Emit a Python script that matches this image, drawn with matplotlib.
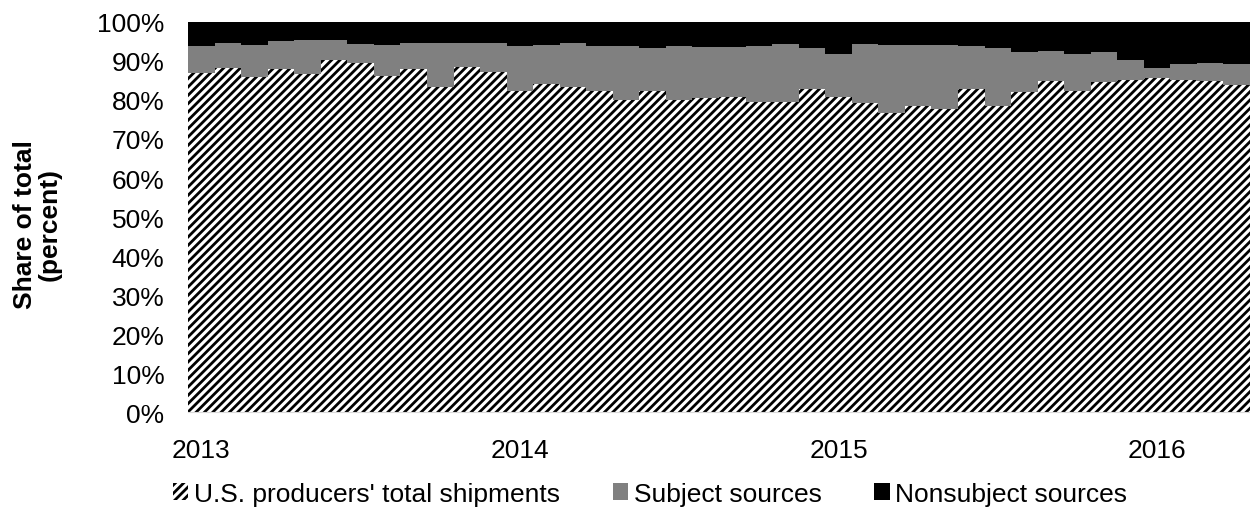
import matplotlib
matplotlib.use("Agg")
import matplotlib.pyplot as plt
import numpy as np
from matplotlib.patches import Patch

# ---------------------------------------------------------------------------
# Data: monthly shares (percent), Jan 2013 - Apr 2016
# ---------------------------------------------------------------------------
MONTHS = 40
YEAR_LABELS = ["2013", "2014", "2015", "2016"]

us_producers = [86.9, 88.2, 85.9, 87.9, 86.6, 90.2, 89.5, 86.2, 87.9, 83.3,
                88.5, 87.2, 82.3, 84.2, 83.2, 82.3, 79.9, 82.3, 80.1, 80.6,
                80.8, 79.5, 79.5, 82.9, 80.8, 79.2, 76.7, 78.4, 77.8, 82.9,
                78.4, 82.0, 84.9, 82.3, 84.6, 85.2, 85.6, 85.2, 84.9, 83.9]
subject = [6.9, 6.5, 8.1, 7.1, 8.7, 5.1, 4.9, 7.8, 6.8, 11.4,
           6.1, 7.5, 11.5, 9.8, 11.5, 11.5, 13.9, 10.9, 13.7, 13.0,
           12.8, 14.4, 14.9, 10.3, 11.1, 15.2, 17.3, 15.6, 16.2, 11.0,
           15.0, 10.3, 7.6, 9.6, 7.6, 5.0, 2.6, 3.9, 4.6, 5.2]
nonsubject = [6.2, 5.3, 6.0, 5.0, 4.7, 4.7, 5.6, 6.0, 5.3, 5.3,
              5.4, 5.3, 6.2, 6.0, 5.3, 6.2, 6.2, 6.8, 6.2, 6.4,
              6.4, 6.1, 5.6, 6.8, 8.1, 5.6, 6.0, 6.0, 6.0, 6.1,
              6.6, 7.7, 7.5, 8.1, 7.8, 9.8, 11.8, 10.9, 10.5, 10.9]

LABELS = ["U.S. producers' total shipments", "Subject sources", "Nonsubject sources"]
GRAY = "#808080"

plt.rcParams["font.family"] = ["Liberation Sans", "DejaVu Sans"]
plt.rcParams["hatch.linewidth"] = 2.0

fig = plt.figure(figsize=(12.5, 5.1), dpi=100)
ax = fig.add_axes([0.1504, 0.19, 0.8496, 0.765])

# step edges: repeat the last value so the final month gets its full width
edges = np.arange(MONTHS + 1)
us = np.append(us_producers, us_producers[-1])
sub = np.append(subject, subject[-1])
non = np.append(nonsubject, nonsubject[-1])
top_us = us
top_sub = us + sub
top_non = us + sub + non

ax.fill_between(edges, 0, top_us, step="post", facecolor="white",
                edgecolor="black", hatch="////", linewidth=0)
ax.fill_between(edges, top_us, top_sub, step="post", facecolor=GRAY, linewidth=0)
ax.fill_between(edges, top_sub, top_non, step="post", facecolor="black", linewidth=0)

ax.set_xlim(0, MONTHS)
ax.set_ylim(0, 100)
ax.set_yticks(np.arange(0, 101, 10))
ax.set_yticklabels([f"{v}%" for v in range(0, 101, 10)])
ax.set_xticks([0.5, 12.5, 24.5, 36.5])
ax.set_xticklabels(YEAR_LABELS)
ax.tick_params(axis="both", length=0, labelsize=19, colors="#000000")
ax.tick_params(axis="y", pad=17)
ax.tick_params(axis="x", pad=19)

for side in ["top", "right", "left"]:
    ax.spines[side].set_visible(False)
ax.spines["bottom"].set_color("#d9d9d9")

fig.text(0.03, 0.559, "Share of total\n(percent)", rotation=90, ha="center",
         va="center", fontsize=19, fontweight="bold", linespacing=1.0)

handles = [
    Patch(facecolor="white", edgecolor="black", hatch="////", linewidth=0),
    Patch(facecolor=GRAY, linewidth=0),
    Patch(facecolor="black", linewidth=0),
]
fig.legend(handles, LABELS, loc="center", bbox_to_anchor=(0.52, 0.03), ncol=3,
           frameon=False, fontsize=19, handlelength=0.6, handleheight=0.6,
           handletextpad=0.2, columnspacing=2.0, borderaxespad=0)

fig.savefig("out.png", dpi=100)
